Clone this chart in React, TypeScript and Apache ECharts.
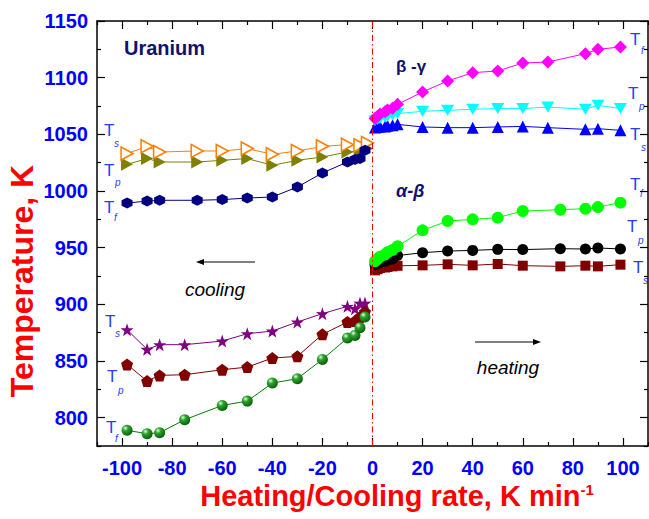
import React, { useEffect, useRef } from "react";
import * as echarts from "echarts";

// ---------- data ----------
const coolXA = [-98, -90, -85, -70, -60, -50, -40, -30, -20, -10, -7, -5, -3];
const coolXB = [-98, -90, -85, -70, -60, -50, -40, -30, -20, -10, -5, -2];
const coolXC = [-98, -90, -85, -75, -60, -50, -40, -30, -20, -10, -7, -5, -3];
const heatXA = [1, 2, 3, 5, 6, 8, 10, 20, 30, 40, 50, 60, 70, 85, 90, 99];
const heatXB = [1, 2, 3, 5, 6, 8, 10, 20, 30, 40, 50, 60, 75, 85, 90, 99];

// cooling, upper (gamma -> beta)
const coolTfUpper = [989.4, 991.1, 991.8, 991.8, 992.4, 993.8, 994.7, 1003.5, 1015.9, 1025.6, 1027.7, 1028.6, 1035.9];
const coolTsUpper = [1033, 1039.4, 1034.4, 1035.3, 1035.3, 1037.4, 1032.4, 1035.3, 1039.4, 1040.9, 1040.3, 1042.3];
const coolTpUpper = [1023.5, 1028.6, 1025.6, 1025.6, 1027.1, 1028.6, 1022.7, 1027.1, 1030, 1034.4, 1035.3, 1037.4];
// cooling, lower (beta -> alpha)
const coolTsLower = [877.6, 860.3, 864.4, 864.4, 867.6, 874.1, 876.4, 884.4, 891.8, 898.2, 896.2, 901.1, 901.1];
const coolTpLower = [847, 832.3, 837.3, 837.9, 842.3, 844.6, 852.6, 854.1, 873.5, 884.4, 885.2, 888.8, 893.2];
const coolTfLower = [788.8, 785.9, 786.7, 798.2, 810.8, 814.6, 830.5, 834.4, 851.4, 870.2, 872.6, 879.4, 888.8];
// heating, beta -> gamma
const heatTfUpper = [1064, 1066, 1068, 1070, 1071.5, 1073, 1076.5, 1087.4, 1097.1, 1104.4, 1105.9, 1112.9, 1113.8, 1121.2, 1125, 1127.1];
const heatTpUpper = [1062, 1063, 1064, 1065, 1066, 1067, 1068.3, 1070.3, 1071.2, 1072.1, 1072.7, 1072.7, 1074.1, 1072.1, 1075.6, 1072.7];
const heatTsUpper = [1056, 1056.5, 1057, 1057, 1057.5, 1058, 1058.8, 1056.5, 1055.9, 1055.9, 1056.5, 1057, 1055.9, 1054.4, 1055, 1053.5];
// heating, alpha -> beta
const heatTfLower = [938, 940, 942, 944, 946, 948, 951.2, 965.3, 973.5, 975, 976.5, 982.3, 983.5, 984.4, 985.8, 989.7];
const heatTpLower = [935, 936, 937, 938, 939, 940, 943, 945.6, 947, 947.6, 948.5, 948.3, 949.1, 948.8, 949.7, 948.9];
const heatTsLower = [930, 931, 932, 932.5, 933, 933.5, 934, 934.4, 935.3, 934.4, 935.6, 934.1, 933.5, 934.1, 933.5, 935];

// axis ticks / labels
const xMajor = [-100, -80, -60, -40, -20, 0, 20, 40, 60, 80, 100];
const xMinor = [-110, -90, -70, -50, -30, -10, 10, 30, 50, 70, 90, 110];
const yMajor = [800, 850, 900, 950, 1000, 1050, 1100, 1150];
const yMinor = [775, 825, 875, 925, 975, 1025, 1075, 1125];

const FONT = '"Liberation Sans", Arial, Helvetica, sans-serif';

const SYM = {
  hexagon: "path://M50,0 L93.3,25 L93.3,75 L50,100 L6.7,75 L6.7,25 Z",
  rightTri: "path://M0,0 L100,50 L0,100 Z",
  downTri: "path://M0,0 L100,0 L50,100 Z",
  star: "path://M50,0 L61.8,35.1 L97.6,34.5 L69.1,56.7 L79.4,90.5 L50,70 L20.6,90.5 L30.9,56.7 L2.4,34.5 L38.2,35.1 Z",
  pentagon: "path://M50,0 L97.6,34.5 L79.4,90.5 L20.6,90.5 L2.4,34.5 Z",
};

function zip(xs: number[], ys: number[]) {
  return ys.map((y, i) => [xs[i], y]);
}

function mk(xs: number[], ys: number[], color: string, symbol: string, size: number | number[], item?: any) {
  return {
    type: "line",
    data: zip(xs, ys),
    symbol,
    symbolSize: size,
    showSymbol: true,
    lineStyle: { color, width: 1 },
    itemStyle: item || { color },
    emphasis: { disabled: true },
    z: 3,
  };
}

function tLabel(x: number, y: number, sub: string, sx: number, sy: number) {
  return [
    {
      type: "text",
      x,
      y,
      style: { text: "T", font: `17px ${FONT}`, fill: "#2a3cff", align: "left", verticalAlign: "middle" },
    },
    {
      type: "text",
      x: sx,
      y: sy,
      style: { text: sub, font: `italic 10px ${FONT}`, fill: "#2a3cff", align: "left", verticalAlign: "middle" },
    },
  ];
}

const plain = (v: number) => String(v);

export default function App() {
  const ref = useRef<HTMLDivElement>(null);
  useEffect(() => {
    if (!ref.current) return;
    const chart = echarts.init(ref.current, null, { renderer: "svg" });
    const ball = new echarts.graphic.RadialGradient(0.35, 0.3, 0.7, [
      { offset: 0, color: "#e8ffe8" },
      { offset: 0.35, color: "#2ea52e" },
      { offset: 1, color: "#0b610b" },
    ]);
    const axisBase = {
      type: "value",
      min: -110,
      max: 110,
      splitLine: { show: false },
      axisPointer: { show: false },
    };
    const yBase = {
      type: "value",
      min: 775,
      max: 1150,
      splitLine: { show: false },
    };
    const lineStyle = { color: "#000", width: 1.5 };
    const option: any = {
      animation: false,
      backgroundColor: "#fff",
      grid: { left: 97, right: 1, top: 21, bottom: 73, containLabel: false },
      xAxis: [
        {
          ...axisBase,
          position: "bottom",
          axisLine: { show: true, onZero: false, lineStyle },
          axisTick: { show: true, inside: true, length: 8, customValues: xMajor, lineStyle: { color: "#000", width: 1.2 } },
          axisLabel: {
            show: true,
            customValues: xMajor,
            formatter: plain,
            color: "#0000ff",
            fontWeight: "bold",
            fontSize: 20,
            fontFamily: FONT,
            margin: 12,
          },
        },
        {
          ...axisBase,
          position: "bottom",
          axisLine: { show: false, onZero: false },
          axisTick: { show: true, inside: true, length: 4, customValues: xMinor, lineStyle: { color: "#000", width: 1.2 } },
          axisLabel: { show: false },
        },
        {
          ...axisBase,
          position: "top",
          axisLine: { show: true, onZero: false, lineStyle },
          axisTick: { show: true, inside: true, length: 8, customValues: xMajor, lineStyle: { color: "#000", width: 1.2 } },
          axisLabel: { show: false },
        },
        {
          ...axisBase,
          position: "top",
          axisLine: { show: false, onZero: false },
          axisTick: { show: true, inside: true, length: 4, customValues: xMinor, lineStyle: { color: "#000", width: 1.2 } },
          axisLabel: { show: false },
        },
      ],
      yAxis: [
        {
          ...yBase,
          position: "left",
          axisLine: { show: true, onZero: false, lineStyle },
          axisTick: { show: true, inside: true, length: 8, customValues: yMajor, lineStyle: { color: "#000", width: 1.2 } },
          axisLabel: {
            show: true,
            customValues: yMajor,
            formatter: plain,
            color: "#0000ff",
            fontWeight: "bold",
            fontSize: 20,
            fontFamily: FONT,
            margin: 9,
          },
        },
        {
          ...yBase,
          position: "left",
          axisLine: { show: false, onZero: false },
          axisTick: { show: true, inside: true, length: 4, customValues: yMinor, lineStyle: { color: "#000", width: 1.2 } },
          axisLabel: { show: false },
        },
        {
          ...yBase,
          position: "right",
          axisLine: { show: true, onZero: false, lineStyle },
          axisTick: { show: true, inside: true, length: 8, customValues: yMajor, lineStyle: { color: "#000", width: 1.2 } },
          axisLabel: { show: false },
        },
        {
          ...yBase,
          position: "right",
          axisLine: { show: false, onZero: false },
          axisTick: { show: true, inside: true, length: 4, customValues: yMinor, lineStyle: { color: "#000", width: 1.2 } },
          axisLabel: { show: false },
        },
      ],
      series: [
        {
          ...mk(coolXB, coolTpUpper, "#808000", SYM.rightTri, [12, 13]),
        },
        {
          ...mk(coolXB, coolTsUpper, "#ff8000", SYM.rightTri, [12, 13], {
            color: "#ffffff",
            borderColor: "#ff8000",
            borderWidth: 1.6,
          }),
        },
        { ...mk(coolXA, coolTfUpper, "#000080", SYM.hexagon, 11) },
        { ...mk(coolXC, coolTsLower, "#800080", SYM.star, 13) },
        { ...mk(coolXC, coolTpLower, "#800000", SYM.pentagon, 12) },
        { ...mk(coolXC, coolTfLower, "#008000", "circle", 11, { color: ball }) },
        { ...mk(heatXA, heatTsUpper, "#0000ff", "triangle", 12) },
        { ...mk(heatXA, heatTpUpper, "#00ffff", SYM.downTri, [13, 11]) },
        { ...mk(heatXA, heatTfUpper, "#ff00ff", "diamond", 13) },
        { ...mk(heatXB, heatTsLower, "#800000", "rect", 10) },
        { ...mk(heatXB, heatTpLower, "#000000", "circle", 11) },
        {
          ...mk(heatXB, heatTfLower, "#00ff00", "circle", 12),
          markLine: {
            silent: true,
            symbol: ["none", "none"],
            label: { show: false },
            lineStyle: { color: "#ff0000", type: [6, 3, 1.5, 3], width: 1 },
            data: [{ xAxis: 0 }],
          },
        },
      ],
      graphic: [
        {
          type: "text",
          x: 124,
          y: 48,
          style: { text: "Uranium", font: `bold 20px ${FONT}`, fill: "#101070", align: "left", verticalAlign: "middle" },
        },
        {
          type: "text",
          x: 396,
          y: 66,
          style: { text: "β -γ", font: `bold 17px ${FONT}`, fill: "#101070", align: "left", verticalAlign: "middle" },
        },
        {
          type: "text",
          x: 396,
          y: 191,
          style: { text: "α-β", font: `italic bold 18px ${FONT}`, fill: "#101070", align: "left", verticalAlign: "middle" },
        },
        {
          type: "text",
          x: 215,
          y: 289,
          style: { text: "cooling", font: `italic 19px ${FONT}`, fill: "#000", align: "center", verticalAlign: "middle" },
        },
        {
          type: "text",
          x: 508,
          y: 367,
          style: { text: "heating", font: `italic 19px ${FONT}`, fill: "#000", align: "center", verticalAlign: "middle" },
        },
        { type: "line", shape: { x1: 201, y1: 262, x2: 255, y2: 262 }, style: { stroke: "#000", lineWidth: 1 } },
        { type: "polygon", shape: { points: [[196, 262], [204, 259], [204, 265]] }, style: { fill: "#000" } },
        { type: "line", shape: { x1: 475, y1: 342, x2: 536, y2: 342 }, style: { stroke: "#000", lineWidth: 1 } },
        { type: "polygon", shape: { points: [[541, 342], [533, 339], [533, 345]] }, style: { fill: "#000" } },
        ...tLabel(104, 130, "s", 114, 143),
        ...tLabel(104, 170, "p", 115, 182),
        ...tLabel(104, 207, "f", 114, 217),
        ...tLabel(105, 321, "s", 115, 333),
        ...tLabel(107, 376, "p", 118, 390),
        ...tLabel(106, 427, "f", 115, 438),
        ...tLabel(630, 39, "f", 641, 50),
        ...tLabel(628, 93, "p", 639, 106),
        ...tLabel(630, 134, "s", 641, 147),
        ...tLabel(630, 184, "f", 640, 193),
        ...tLabel(627, 226, "p", 638, 240),
        ...tLabel(633, 267, "s", 643, 280),
        {
          type: "text",
          x: 397,
          y: 496,
          style: {
            text: "{a|Heating/Cooling rate, K min}{b|-1}",
            align: "center",
            verticalAlign: "middle",
            rich: {
              a: { font: `bold 29px ${FONT}`, fill: "#ff0000", color: "#ff0000" },
              b: { font: `bold 15px ${FONT}`, fill: "#ff0000", color: "#ff0000", verticalAlign: "top" },
            },
          },
        },
        {
          type: "text",
          x: 22,
          y: 281,
          rotation: Math.PI / 2,
          style: {
            text: "Temperature, K",
            font: `bold 32px ${FONT}`,
            fill: "#ff0000",
            align: "center",
            verticalAlign: "middle",
          },
        },
      ],
    };
    chart.setOption(option);
    return () => chart.dispose();
  }, []);
  return (
    <div
      ref={ref}
      style={{ position: "absolute", left: 0, top: 0, width: 649, height: 519, background: "#fff" }}
    />
  );
}
